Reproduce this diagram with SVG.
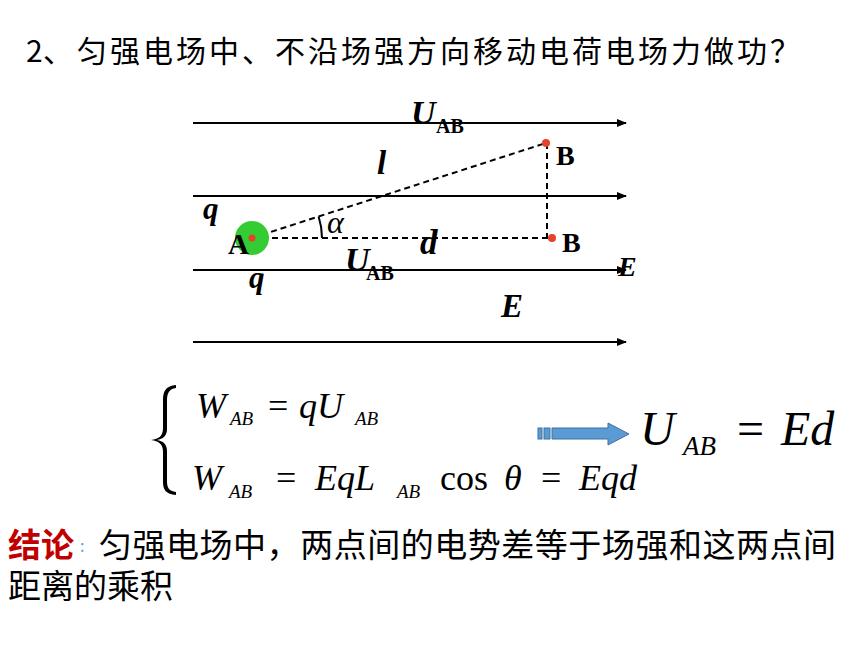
<svg xmlns="http://www.w3.org/2000/svg" width="860" height="645" viewBox="0 0 860 645">
<defs>
<style>
.cjk{font-family:"Noto Sans CJK SC","Noto Sans",sans-serif;fill:#000}
.bi{font-family:"Liberation Serif",serif;font-style:italic;font-weight:bold;fill:#000}
.bu{font-family:"Liberation Serif",serif;font-weight:bold;fill:#000}
.it{font-family:"Liberation Serif",serif;font-style:italic;fill:#000}
.up{font-family:"Liberation Serif",serif;fill:#000}
.field{stroke:#000;stroke-width:2;fill:none;marker-end:url(#ah)}
.dash{stroke:#000;stroke-width:2;fill:none;stroke-dasharray:6 4}
.dot{fill:#E8412A}
</style>
<marker id="ah" viewBox="0 0 10 10" refX="9" refY="5" markerWidth="5" markerHeight="5" orient="auto" markerUnits="strokeWidth">
<path d="M0,1 L10,5 L0,9 Z" fill="#000"/>
</marker>
</defs>
<rect width="860" height="645" fill="#fff"/>

<g id="title">
<text class="cjk" font-size="30" y="62" x="26 43 77 110 143 176 209 242 275 308 341 374 407 440 473 506 539 572 605 638 671 704 737 770">2、匀强电场中、不沿场强方向移动电荷电场力做功？</text>
</g>

<g id="connectors">
<line class="field" x1="193" y1="123" x2="626" y2="123"/>
<line class="field" x1="193" y1="196" x2="626" y2="196" stroke-width="3"/>
<line class="field" x1="193" y1="270" x2="626" y2="270"/>
<line class="field" x1="193" y1="342" x2="626" y2="342"/>
<line class="dash" x1="252" y1="238" x2="546" y2="143"/>
<line class="dash" x1="252" y1="238" x2="552" y2="238"/>
<line class="dash" x1="547" y1="143" x2="547" y2="238"/>
<path d="M322 238 A70 70 0 0 0 318.6 216.5" stroke="#000" stroke-width="2" fill="none"/>
</g>

<g id="node-A">
<circle cx="252" cy="238" r="17" fill="#33CC33"/>
<circle class="dot" cx="252" cy="238" r="3.5"/>
<text class="bu" font-size="29" x="228" y="254">A</text>
</g>
<g id="node-B-top">
<circle class="dot" cx="546" cy="143" r="4"/>
<text class="bu" font-size="28" x="556" y="165">B</text>
</g>
<g id="node-B">
<circle class="dot" cx="552" cy="238" r="4"/>
<text class="bu" font-size="28" x="562" y="252">B</text>
</g>

<g id="labels">
<text class="bi" font-size="34" x="411" y="124">U</text>
<text class="bu" font-size="20" x="436" y="133">AB</text>
<text class="bi" font-size="33" x="377" y="174">l</text>
<text class="bi" font-size="31" x="203" y="219">q</text>
<text class="it" font-size="32" x="327" y="233">α</text>
<text class="bi" font-size="35" x="420" y="254">d</text>
<text class="bi" font-size="34" x="345" y="271">U</text>
<text class="bu" font-size="20" x="366" y="280">AB</text>
<text class="bi" font-size="31" x="249" y="288">q</text>
<text class="bi" font-size="28" x="618" y="276">E</text>
<text class="bi" font-size="33" x="501" y="317">E</text>
</g>

<g id="equations">
<path d="M176 385 C166 386 163 391 163 400 L163 428 C163 436 159 439 151 440 C159 441 163 444 163 452 L163 482 C163 490 166 494 176 495 L176 492 C169 491 167 488 167 481 L167 451 C167 444 163 441 157 440 C163 439 167 436 167 429 L167 401 C167 393 169 389 176 388 Z" fill="#000"/>
<text class="it" font-size="36" x="196" y="418">W</text>
<text class="it" font-size="19" x="230" y="425">AB</text>
<text class="up" font-size="36" x="268" y="418">=</text>
<text class="it" font-size="36" x="299" y="418">qU</text>
<text class="it" font-size="19" x="355" y="425">AB</text>

<text class="it" font-size="36" x="192" y="490">W</text>
<text class="it" font-size="19" x="229" y="498">AB</text>
<text class="up" font-size="36" x="276" y="490">=</text>
<text class="it" font-size="36" x="315" y="490">EqL</text>
<text class="it" font-size="19" x="397" y="498">AB</text>
<text class="up" font-size="36" x="440" y="490">cos</text>
<text class="it" font-size="36" x="504" y="490">θ</text>
<text class="up" font-size="36" x="541" y="490">=</text>
<text class="it" font-size="36" x="579" y="490">Eqd</text>

<g id="arrow">
<rect x="538" y="428" width="4" height="11" fill="#5B9BD5" stroke="#41719C" stroke-width="1"/>
<rect x="544" y="428" width="6" height="11" fill="#5B9BD5" stroke="#41719C" stroke-width="1"/>
<path d="M552 428 L608 428 L608 423 L629 434 L608 445 L608 439 L552 439 Z" fill="#5B9BD5" stroke="#41719C" stroke-width="1"/>
</g>
<text class="it" font-size="48" x="640" y="445">U</text>
<text class="it" font-size="27" x="683" y="455">AB</text>
<text class="up" font-size="48" x="737" y="445">=</text>
<text class="it" font-size="48" x="781" y="445">Ed</text>
</g>

<g id="conclusion">
<text class="cjk" font-size="33" x="8" y="557" font-weight="bold" style="fill:#C00000">结论</text>
<text font-family="Noto Sans CJK SC,sans-serif" font-size="16" x="80" y="552" fill="#5B9BD5">:</text>
<text class="cjk" font-size="33" x="99" y="557" textLength="737" lengthAdjust="spacing">匀强电场中，两点间的电势差等于场强和这两点间</text>
<text class="cjk" font-size="33" x="8" y="598">距离的乘积</text>
</g>
</svg>
